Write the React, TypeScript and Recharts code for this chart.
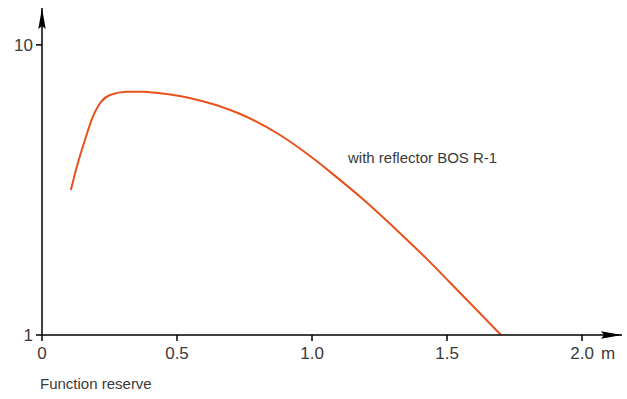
import { LineChart, Line, XAxis, YAxis } from "recharts";

// function reserve curve
const distances = [
  0.107, 0.129, 0.159, 0.19, 0.221, 0.252, 0.314, 0.37, 0.437, 0.55, 0.73, 0.88, 1.0, 1.067, 1.19, 1.32,
  1.425, 1.51, 1.7,
];
const reserve = [
  3.16, 3.8, 4.7, 5.7, 6.4, 6.72, 6.89, 6.9, 6.81, 6.55, 5.8, 4.9, 4.09, 3.65, 2.93, 2.27, 1.83, 1.52, 1.0,
];

const xTicks = [0, 0.5, 1.0, 1.5, 2.0];
const xTickLabels = ["0", "0.5", "1.0", "1.5", "2.0"];
const xUnit = "m";
const yTicks = [1, 10];

const data = distances.map((d, i) => ({ x: d, y: reserve[i] }));

const textColor = "#3a3a3a";
const font = '"Liberation Sans", Arial, Helvetica, sans-serif';

// x tick: number centred on the tick, unit hangs off to the right of the last one
const XTick = (props: any) => {
  const { x, y, payload, index } = props;
  const isLast = index === xTicks.length - 1;
  return (
    <g transform={`translate(${x},${y})`}>
      <text textAnchor="middle" dy="0.71em" fill={textColor} fontSize={17} fontFamily={font}>
        {xTickLabels[xTicks.indexOf(payload.value)] ?? payload.value}
      </text>
      {isLast && (
        <text x={19} textAnchor="start" dy="0.71em" fill={textColor} fontSize={17} fontFamily={font}>
          {xUnit}
        </text>
      )}
    </g>
  );
};

export default function App() {
  return (
    <div style={{ position: "fixed", top: 0, left: 0, width: 627, height: 399, background: "#fff" }}>
      <LineChart width={627} height={399} data={data} margin={{ top: 8, right: 5, bottom: 34, left: 0 }}>
        <defs>
          <marker
            id="arrowHead"
            markerUnits="userSpaceOnUse"
            markerWidth={21}
            markerHeight={9}
            refX={21}
            refY={4.5}
            orient="auto-start-reverse"
          >
            <path d="M0,0.8 L21,4.5 L0,8.2 L3,4.5 z" fill="#000" />
          </marker>
        </defs>
        <XAxis
          dataKey="x"
          type="number"
          domain={[0, 2.148]}
          allowDataOverflow
          ticks={xTicks}
          axisLine={{ stroke: "#000", strokeWidth: 1.5, markerEnd: "url(#arrowHead)" }}
          tickLine={{ stroke: "#000", strokeWidth: 1.5 }}
          tickSize={6}
          tickMargin={6}
          height={30}
          tick={(props: any) => <XTick {...props} />}
        />
        <YAxis
          dataKey="y"
          scale="log"
          domain={[1, 13.4]}
          allowDataOverflow
          ticks={yTicks}
          axisLine={{ stroke: "#000", strokeWidth: 1.5, markerStart: "url(#arrowHead)" }}
          tickLine={{ stroke: "#000", strokeWidth: 1.5 }}
          tickSize={6}
          tickMargin={3}
          width={42}
          tick={{ fill: textColor, fontSize: 17, fontFamily: font }}
        />
        <Line
          type="monotone"
          dataKey="y"
          stroke="#e8501c"
          strokeWidth={2}
          dot={false}
          isAnimationActive={false}
        />
      </LineChart>
      <div
        style={{
          position: "absolute",
          left: 348,
          top: 149,
          fontFamily: font,
          fontSize: 15,
          color: textColor,
          whiteSpace: "nowrap",
        }}
      >
        with reflector BOS R-1
      </div>
      <div
        style={{
          position: "absolute",
          left: 40,
          top: 375,
          fontFamily: font,
          fontSize: 15,
          color: textColor,
          whiteSpace: "nowrap",
        }}
      >
        Function reserve
      </div>
    </div>
  );
}
